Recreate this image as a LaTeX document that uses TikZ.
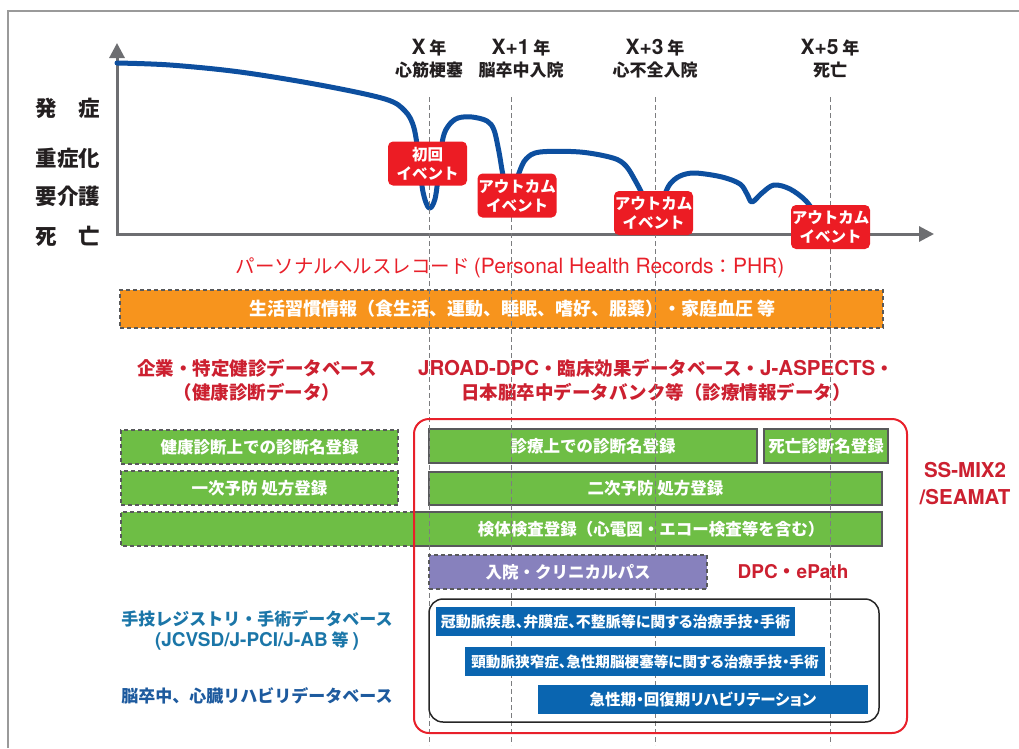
\documentclass[tikz,border=0pt]{standalone}
\usepackage{fontspec}
\setmainfont{Noto Sans CJK JP}
\newfontfamily\jpp[RawFeature=+palt]{Noto Sans CJK JP}
\newfontfamily\lat{TeX Gyre Heros}
\usetikzlibrary{arrows.meta}
\definecolor{axisgray}{HTML}{6D6E71}
\definecolor{curveblue}{HTML}{0D4F9F}
\definecolor{evtred}{HTML}{EC1C24}
\definecolor{phrred}{HTML}{E8202A}
\definecolor{dbred}{HTML}{CC2030}
\definecolor{orgfill}{HTML}{F7941D}
\definecolor{grnfill}{HTML}{6EBE45}
\definecolor{bordgray}{HTML}{58595B}
\definecolor{purfill}{HTML}{8781BD}
\definecolor{bluefill}{HTML}{0A65B0}
\definecolor{tealtext}{HTML}{1B76A8}
\definecolor{darkblue}{HTML}{1D5A9E}
\definecolor{framegray}{HTML}{9A9A9A}
\definecolor{labblack}{HTML}{231F20}
\newcommand{\latx}[2]{{\lat\fontsize{#1}{22}\selectfont #2}}
\tikzset{
  ylab/.style={font=\fontsize{21.5}{24}\selectfont\bfseries, text=labblack},
  toplab/.style={font=\fontsize{17}{22}\selectfont\bfseries, text=labblack, align=center},
  evt/.style={fill=evtred, rounded corners=5pt, text=white, align=center,
    font=\fontsize{15.5}{19}\selectfont\bfseries, minimum width=79pt, minimum height=44pt, inner sep=0pt},
  dashbord/.style={draw=bordgray, line width=1.8pt, dash pattern=on 4pt off 3pt},
  solbord/.style={draw=bordgray, line width=2pt},
  gbox/.style={fill=grnfill, text=white, font=\fontsize{16.5}{20}\selectfont\bfseries, inner sep=0pt, minimum height=34pt},
  bbox/.style={fill=bluefill, text=white, inner sep=0pt, minimum height=29pt},
  vdash/.style={draw=axisgray!90, line width=1pt, dash pattern=on 5pt off 3pt},
  redtitle/.style={text=dbred, align=center, font=\fontsize{18.5}{24}\selectfont\bfseries},
}
\begin{document}
\begin{tikzpicture}[x=1pt,y=-1pt]
\useasboundingbox (0,0) rectangle (1019,748);
% frame
\draw[framegray, line width=1.5pt] (8,748) -- (8,11) -- (1019,11);

% axes
\coordinate (ytip) at (117,43);
\coordinate (xtip) at (934,234);
\draw[axisgray, line width=3pt, -{Triangle[length=15pt,width=15pt]}] (117,236) -- (ytip);
\draw[axisgray, line width=3pt, -{Triangle[length=15pt,width=15pt]}] (116,234) -- (xtip);

% y labels
\node[ylab] (l1) at (68,108) {発　症};
\node[ylab] (l2) at (68,158) {重症化};
\node[ylab] (l3) at (68,196) {要介護};
\node[ylab] (l4) at (68,236) {死　亡};

% top labels
\node[toplab] (t1) at (429,59) {\latx{21}{X} 年\\心筋梗塞};
\node[toplab] (t2) at (521,59) {\latx{21}{X+1} 年\\脳卒中入院};
\node[toplab] (t3) at (655,59) {\latx{21}{X+3} 年\\心不全入院};
\node[toplab] (t4) at (830,59) {\latx{21}{X+5} 年\\死亡};

% curve
\draw[curveblue, line width=5pt, line cap=round, line join=round] plot[smooth, tension=0.55] coordinates {
 (117,63) (170,65) (240,72) (320,85) (385,99) (405,111) (414,128) (419,160) (423,192) (429,208) (435,199) (439,170) (443,138) (449,125) (458,118) (472,117) (487,121) (494,130) (499,152) (503,175) (509,197) (514,190) (519,173) (526,159) (540,152) (580,152) (613,158) (626,166) (636,182) (644,197) (655,215) (664,196) (670,184) (680,176) (695,173) (722,177) (740,184) (747,194) (752,202) (762,193) (774,185) (790,189) (806,201) (818,218)};

% PHR
\node[text=phrred, font=\fontsize{19.5}{22}\selectfont] (phr) at (510,268) {パーソナルヘルスレコード \latx{21}{(Personal Health Records}：\latx{21}{PHR)}};

% orange box
\node[fill=orgfill, dashbord, minimum width=763pt, minimum height=38pt, inner sep=0pt,
  text=white, font=\fontsize{18}{20}\selectfont\bfseries] (life) at (501.5,309)
  {\hspace*{22pt}生活習慣情報（食生活、運動、睡眠、嗜好、服薬）・家庭血圧 等};

% database titles
\node[redtitle] (db1) at (257,380) {企業・特定健診データベース\\（健康診断データ）};
\node[redtitle] (db2) at (656,380) {\latx{20.5}{JROAD-DPC}・臨床効果データベース・\latx{20.5}{J-ASPECTS}・\\日本脳卒中データバンク等（診療情報データ）};

% green boxes left (dashed)
\node[gbox, dashbord, minimum width=277pt] (g1) at (259.5,447) {健康診断上での診断名登録};
\node[gbox, dashbord, minimum width=277pt] (g2) at (259.5,488) {一次予防 処方登録};
% long lab box
\node[fill=grnfill, inner sep=0pt, minimum width=761pt, minimum height=34pt] (g3) at (501.5,529) {};
\draw[dashbord] (414,512) -- (121,512) -- (121,546) -- (414,546);
\draw[solbord] (414,512) -- (882,512) -- (882,546) -- (414,546);
\node[text=white, font=\fontsize{16.5}{20}\selectfont\bfseries] (g3t) at (651,529) {検体検査登録（心電図・エコー検査等を含む）};
% green boxes right (solid)
\node[gbox, solbord, minimum width=328pt] (g4) at (593,446) {診療上での診断名登録};
\node[gbox, solbord, minimum width=124pt] (g5) at (826,446) {死亡診断名登録};
\node[gbox, solbord, minimum width=453pt, minimum height=33pt] (g6) at (655.5,488.5) {二次予防 処方登録};

% vertical dashed lines
\coordinate (v1a) at (429,97); \coordinate (v1b) at (429,745);
\coordinate (v2a) at (511,97); \coordinate (v2b) at (511,745);
\coordinate (v3a) at (655,97); \coordinate (v3b) at (655,745);
\coordinate (v4a) at (830,97); \coordinate (v4b) at (830,745);
\draw[vdash] (v1a) -- (v1b);
\draw[vdash] (v2a) -- (v2b);
\draw[vdash] (v3a) -- (v3b);
\draw[vdash] (v4a) -- (v4b);

% event boxes
\node[evt] (e1) at (427.5,163.5) {初回\\イベント};
\node[evt] (e2) at (517,195.5) {アウトカム\\イベント};
\node[evt] (e3) at (653.5,213) {アウトカム\\イベント};
\node[evt] (e4) at (830.5,227) {アウトカム\\イベント};

% red frame
\draw[phrred, line width=2pt, rounded corners=15pt] (414,419) rectangle (907,733);
\node[text=dbred, align=center, font=\lat\fontsize{20.5}{27}\selectfont\bfseries] (ss) at (965,484) {SS-MIX2\\/SEAMAT};

% purple
\node[fill=purfill, dashbord, minimum width=278pt, minimum height=34pt, inner sep=0pt,
  text=white, font=\fontsize{16.5}{20}\selectfont\bfseries] (pur) at (568,572) {入院・クリニカルパス};
\node[text=dbred, font=\fontsize{19}{22}\selectfont\bfseries] (dpc) at (793,572) {{\lat DPC}・{\lat ePath}};

% black frame
\draw[black!85, line width=1.5pt, rounded corners=14pt] (429,599) rectangle (879,722);
\node[bbox, minimum width=359pt, font=\jpp\fontsize{15}{18}\selectfont\bfseries] (b1) at (615.5,621.5) {冠動脈疾患、弁膜症、不整脈等に関する治療手技・手術};
\node[bbox, minimum width=360pt, font=\jpp\fontsize{14.6}{18}\selectfont\bfseries] (b2) at (645,661.5) {頸動脈狭窄症、急性期脳梗塞等に関する治療手技・手術};
\node[bbox, minimum width=330pt, font=\jpp\fontsize{15.5}{18}\selectfont\bfseries] (b3) at (703,699.5) {急性期・回復期リハビリテーション};

% left blue texts
\node[text=tealtext, align=center, font=\fontsize{17}{21}\selectfont\bfseries] (reg) at (257,630) {手技レジストリ・手術データベース\\\latx{19}{(JCVSD/J-PCI/J-AB} 等 \latx{19}{)}};
\node[text=darkblue, font=\fontsize{17}{21}\selectfont\bfseries] (reh) at (257,696) {脳卒中、心臓リハビリデータベース};
\end{tikzpicture}
\end{document}
